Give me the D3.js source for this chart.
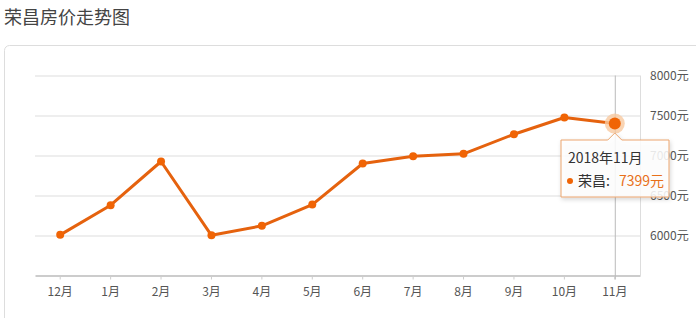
<!DOCTYPE html>
<html>
<head>
<meta charset="utf-8">
<script src="https://cdn.jsdelivr.net/npm/d3@7"></script>
<style>
  body { margin: 0; background: #fff; font-family: "Noto Sans CJK SC", "Noto Sans", sans-serif; }
</style>
</head>
<body>
<svg id="grafico"></svg>
<script>
const meses = ['12月', '1月', '2月', '3月', '4月', '5月', '6月', '7月', '8月', '9月', '10月', '11月'];
const precos = [6008, 6379, 6925, 6002, 6121, 6387, 6900, 6991, 7021, 7266, 7475, 7399];
const ticksY = [5500, 6000, 6500, 7000, 7500, 8000];
const cidade = '荣昌';
const destaque = 11; // indice do ponto com tooltip
const tooltipTitulo = '2018年11月';

const largura = 696, altura = 318;
const svg = d3.select('#grafico').attr('width', largura).attr('height', altura);

const defs = svg.append('defs');
const sombra = defs.append('filter').attr('id', 'sombra').attr('x', '-20%').attr('y', '-20%').attr('width', '140%').attr('height', '150%');
sombra.append('feDropShadow').attr('dx', 1).attr('dy', 2).attr('stdDeviation', 2).attr('flood-color', '#000').attr('flood-opacity', 0.18);

// titulo
svg.append('text')
  .attr('x', 4).attr('y', 24)
  .attr('font-size', 18).attr('fill', '#444')
  .text('荣昌房价走势图');

// cartao
svg.append('rect')
  .attr('x', 4.5).attr('y', 45.5)
  .attr('width', 720).attr('height', 300)
  .attr('rx', 5)
  .attr('fill', '#fff').attr('stroke', '#ddd');

const m = { esquerda: 35, direita: 640, topo: 75.5, base: 275.5 };

const fnX = d3.scaleBand().domain(meses).range([m.esquerda, m.direita]);
const fnY = d3.scaleLinear().domain([5500, 8000]).range([m.base, m.topo]);
const cx = d => fnX(d) + fnX.bandwidth() / 2;

// grade
const grade = d3.axisRight(fnY).tickValues(ticksY.slice(1)).tickSize(m.direita - m.esquerda).tickFormat('');
svg.append('g').attr('transform', 'translate(' + m.esquerda + ',0)').call(grade)
  .call(g => g.select('.domain').remove())
  .call(g => g.selectAll('line').attr('stroke', '#ddd'));

// linha vertical direita
svg.append('line')
  .attr('x1', m.direita + 0.5).attr('x2', m.direita + 0.5)
  .attr('y1', m.topo).attr('y2', m.base)
  .attr('stroke', '#ddd');

// eixo Y (direita)
const eixoY = d3.axisRight(fnY).tickValues(ticksY.slice(1)).tickSize(0).tickPadding(10).tickFormat(d => d + '元');
svg.append('g').attr('transform', 'translate(' + m.direita + ',0)').call(eixoY)
  .call(g => g.select('.domain').remove())
  .call(g => g.selectAll('text').attr('font-size', 12).attr('fill', '#555').attr('font-family', '"Noto Sans CJK SC", sans-serif'));

// eixo X
const eixoX = d3.axisBottom(fnX).tickSize(4).tickSizeOuter(0).tickPadding(8);
svg.append('g').attr('transform', 'translate(0,' + m.base + ')').call(eixoX)
  .call(g => g.select('.domain').attr('stroke', '#ccc').attr('stroke-width', 2))
  .call(g => g.selectAll('line').attr('stroke', '#ccc'))
  .call(g => g.selectAll('text').attr('font-size', 12).attr('fill', '#555').attr('font-family', '"Noto Sans CJK SC", sans-serif'));

// cursor vertical
svg.append('line')
  .attr('x1', cx(meses[destaque]) + 0.5).attr('x2', cx(meses[destaque]) + 0.5)
  .attr('y1', m.topo).attr('y2', m.base + 4)
  .attr('stroke', '#bbb');

const dados = meses.map((d, i) => ({ mes: d, valor: precos[i] }));

// linha
const linha = d3.line().x(d => cx(d.mes)).y(d => fnY(d.valor));
svg.append('path').datum(dados)
  .attr('d', linha)
  .attr('fill', 'none')
  .attr('stroke', '#e5620e')
  .attr('stroke-width', 3)
  .attr('stroke-linejoin', 'round');

// pontos
svg.selectAll('.ponto').data(dados).enter().append('circle')
  .attr('class', 'ponto')
  .attr('cx', d => cx(d.mes))
  .attr('cy', d => fnY(d.valor))
  .attr('r', (d, i) => i === destaque ? 0 : 4)
  .attr('fill', '#f06405');

// ponto destacado
const pd = dados[destaque];
svg.append('circle').attr('cx', cx(pd.mes)).attr('cy', fnY(pd.valor)).attr('r', 10).attr('fill', '#f8c9a0').attr('opacity', 0.8);
svg.append('circle').attr('cx', cx(pd.mes)).attr('cy', fnY(pd.valor)).attr('r', 6).attr('fill', '#f06405');

// tooltip
const tx = 561, ty = 140, tw = 108, th = 57;
const px = cx(pd.mes);
const tip = svg.append('g');
tip.append('path')
  .attr('d', `M${tx},${ty} H${px - 7} L${px},${ty - 7} L${px + 7},${ty} H${tx + tw} V${ty + th} H${tx} Z`)
  .attr('fill', '#fff')
  .attr('fill-opacity', 0.85)
  .attr('stroke', '#eba56e')
  .attr('filter', 'url(#sombra)');
tip.append('text')
  .attr('x', tx + 7).attr('y', ty + 23)
  .attr('font-size', 14).attr('fill', '#333')
  .text(tooltipTitulo);
tip.append('circle').attr('cx', tx + 9).attr('cy', ty + 41).attr('r', 3).attr('fill', '#f06405');
tip.append('text')
  .attr('x', tx + 17).attr('y', ty + 46)
  .attr('font-size', 14).attr('fill', '#333')
  .text(cidade + ':');
tip.append('text')
  .attr('x', tx + 58).attr('y', ty + 46)
  .attr('font-size', 14).attr('fill', '#e8701a')
  .text(pd.valor + '元');
</script>
</body>
</html>
